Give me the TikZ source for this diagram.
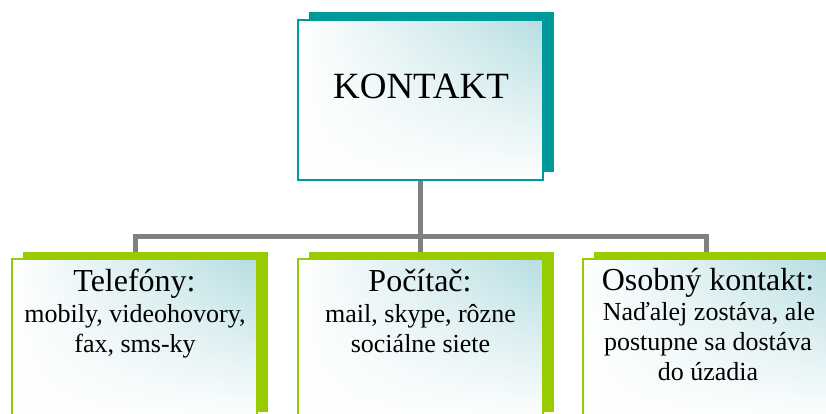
\documentclass[tikz,border=0pt]{standalone}
\usepackage{fontspec}
\setmainfont{Liberation Serif}
\usetikzlibrary{shadows,fadings}
\definecolor{tealdark}{RGB}{0,153,153}
\definecolor{tealpale}{RGB}{182,222,226}
\definecolor{limegreen}{RGB}{153,204,0}
\definecolor{conngray}{RGB}{128,128,128}
\tikzfading[name=fadesouth, top color=transparent!100, middle color=transparent!70, bottom color=transparent!0]
\tikzset{
  boxbase/.style={minimum width=245pt, minimum height=160pt, inner sep=0pt, outer sep=0pt,
    line width=2pt, left color=white, right color=tealpale,
    path picture={\fill[white, path fading=fadesouth] (path picture bounding box.south west) rectangle (path picture bounding box.north east);}},
  topbox/.style={boxbase, draw=tealdark, general shadow={fill=tealdark, shadow xshift=11pt, shadow yshift=8pt}},
  subbox/.style={boxbase, draw=limegreen, general shadow={fill=limegreen, shadow xshift=11pt, shadow yshift=7pt}},
  conn/.style={draw=conngray, line width=5pt},
  titletext/.style={anchor=base, inner sep=0pt, font=\fontsize{32}{36}\selectfont},
  bodytext/.style={anchor=base, inner sep=0pt, font=\fontsize{26}{30}\selectfont},
}
\begin{document}
\begin{tikzpicture}[x=1pt,y=-1pt]
\useasboundingbox (0,0) rectangle (826,414);
\clip (0,0) rectangle (826,414);
% connectors (drawn first)
\coordinate (topS) at (420.5,180);
\coordinate (bus) at (420.5,236);
\coordinate (b1N) at (135.5,259);
\coordinate (b2N) at (420.5,259);
\coordinate (b3N) at (706,259);
\draw[conn] (topS) -- (bus);
\draw[conn] (b1N) |- (bus) -| (b3N);
\draw[conn] (bus) -- (b2N);
% boxes
\node[topbox] (top) at (420.5,100) {};
\node[subbox] (b1) at (134.5,339) {};
\node[subbox] (b2) at (420.5,339) {};
\node[subbox] (b3) at (705.5,339) {};
% texts
\node[anchor=base, inner sep=0pt, font=\fontsize{37}{41}\selectfont] (t0) at (421,99) {KONTAKT};
\node[titletext] (t1a) at (134.5,291) {Telefóny:};
\node[bodytext] (t1b) at (135,322.5) {mobily, videohovory,};
\node[bodytext] (t1c) at (135,352.5) {fax, sms-ky};
\node[titletext] (t2a) at (420,291) {Počítač:};
\node[bodytext] (t2b) at (420.5,322) {mail, skype, rôzne};
\node[bodytext] (t2c) at (420.5,352.5) {sociálne siete};
\node[titletext] (t3a) at (708,290) {Osobný kontakt:};
\node[bodytext] (t3b) at (709,320) {Naďalej zostáva, ale};
\node[bodytext] (t3c) at (708,350) {postupne sa dostáva};
\node[bodytext] (t3d) at (708,380) {do úzadia};
\end{tikzpicture}
\end{document}
